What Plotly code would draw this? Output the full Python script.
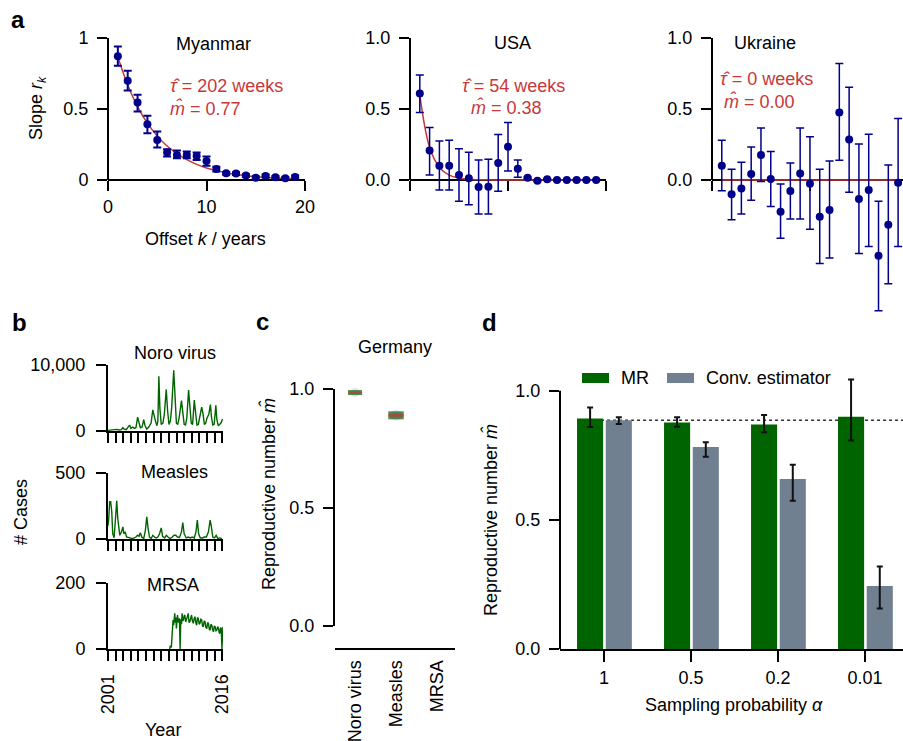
import plotly.graph_objects as go

W, H = 903, 741
FONT = "Liberation Sans, Arial, Helvetica, sans-serif"
NAVY = "#00008B"
RED = "#C8373A"
GREEN = "#006400"
GREY = "#708090"

# ---------------- panel a : slopes r_k vs offset k ----------------
offset_k = list(range(1, 20))
myanmar_r = [0.871, 0.699, 0.546, 0.393, 0.282, 0.193, 0.176, 0.176, 0.169, 0.134,
             0.078, 0.047, 0.045, 0.031, 0.016, 0.028, 0.019, 0.012, 0.021]
myanmar_hi = [0.940, 0.769, 0.600, 0.452, 0.341, 0.216, 0.207, 0.200, 0.193, 0.165,
              0.094, 0.057, 0.055, 0.041, 0.026, 0.038, 0.029, 0.022, 0.031]
myanmar_lo = [0.805, 0.631, 0.482, 0.329, 0.228, 0.165, 0.153, 0.153, 0.141, 0.101,
              0.059, 0.037, 0.035, 0.021, 0.006, 0.018, 0.009, 0.002, 0.011]
myanmar_fit = [0.866, 0.669, 0.517, 0.400, 0.309, 0.239, 0.185, 0.143, 0.110, 0.085,
               0.066, 0.051, 0.039, 0.030, 0.023, 0.018, 0.014, 0.011, 0.008]

usa_r = [0.610, 0.207, 0.100, 0.100, 0.035, 0.012, -0.050, -0.047, 0.120, 0.235,
         0.080, 0.015, -0.005, 0.005, 0.000, 0.000, 0.000, 0.000, 0.000]
usa_hi = [0.740, 0.370, 0.275, 0.280, 0.220, 0.195, 0.140, 0.146, 0.320, 0.405,
          0.140, 0.022, 0.000, 0.010, 0.004, 0.004, 0.004, 0.004, 0.004]
usa_lo = [0.475, 0.035, -0.070, -0.070, -0.150, -0.175, -0.240, -0.240, -0.080, 0.063,
          0.020, 0.008, -0.010, 0.000, -0.004, -0.004, -0.004, -0.004, -0.004]
usa_fit = [0.600, 0.230, 0.088, 0.034, 0.013, 0.005, 0.002, 0.001, 0.000, 0.000,
           0.000, 0.000, 0.000, 0.000, 0.000, 0.000, 0.000, 0.000, 0.000]

ukraine_r = [0.100, -0.100, -0.060, 0.042, 0.176, 0.007, -0.224, -0.078, 0.045, -0.026,
             -0.259, -0.212, 0.475, 0.285, -0.134, -0.071, -0.534, -0.315, -0.019]
ukraine_hi = [0.280, 0.075, 0.125, 0.233, 0.367, 0.200, -0.028, 0.120, 0.367, 0.304,
              0.075, 0.134, 0.820, 0.654, 0.254, 0.322, -0.150, 0.106, 0.433]
ukraine_lo = [-0.075, -0.280, -0.240, -0.143, -0.010, -0.186, -0.410, -0.275, -0.275, -0.346,
              -0.588, -0.550, 0.139, -0.087, -0.518, -0.468, -0.920, -0.730, -0.468]
ukraine_fit = [0.0, 0.0, 0.0, 0.0, 0.0, 0.0, 0.0, 0.0, 0.0, 0.0,
               0.0, 0.0, 0.0, 0.0, 0.0, 0.0, 0.0, 0.0, 0.0]

country_names = ["Myanmar", "USA", "Ukraine"]
tau_labels = ["202", "54", "0"]
m_labels = ["0.77", "0.38", "0.00"]

# ---------------- panel b : case counts (Germany) ----------------
noro_year = [2001.00, 2001.35, 2001.80, 2002.15, 2002.46, 2002.77, 2002.95, 2003.12, 2003.39, 2003.65,
             2003.83, 2004.01, 2004.27, 2004.45, 2004.67, 2004.89, 2005.07, 2005.25, 2005.47, 2005.69,
             2005.87, 2006.09, 2006.35, 2006.66, 2006.88, 2007.06, 2007.24, 2007.42, 2007.55, 2007.68,
             2007.81, 2007.99, 2008.21, 2008.39, 2008.65, 2008.83, 2009.01, 2009.19, 2009.36, 2009.63,
             2009.81, 2009.98, 2010.16, 2010.34, 2010.65, 2010.82, 2011.00, 2011.18, 2011.35, 2011.58,
             2011.75, 2011.93, 2012.11, 2012.33, 2012.50, 2012.68, 2012.86, 2013.08, 2013.30, 2013.48,
             2013.65, 2013.83, 2014.01, 2014.23, 2014.45, 2014.58, 2014.76, 2014.94, 2015.16, 2015.29,
             2015.47, 2015.65, 2015.82, 2016.04]
noro_cases = [100, 150, 100, 250, 150, 200, 500, 300, 200, 600,
              900, 400, 600, 400, 500, 2100, 1200, 500, 600, 1700,
              800, 300, 600, 1200, 3200, 2200, 1500, 800, 1500, 8300,
              3500, 1000, 1200, 2500, 6300, 3000, 1000, 1500, 3500, 9200,
              3800, 1200, 1000, 2000, 4600, 2800, 1000, 900, 2000, 6200,
              3500, 1200, 1000, 4700, 2800, 900, 1000, 2300, 3600, 2600,
              1000, 1200, 2000, 2500, 4000, 2200, 900, 1000, 3900, 1800,
              800, 1000, 1200, 1800]

measles_year = [2001.00, 2001.09, 2001.22, 2001.35, 2001.49, 2001.62, 2001.80, 2001.93, 2002.06, 2002.15,
                2002.28, 2002.42, 2002.55, 2002.77, 2002.95, 2003.08, 2003.26, 2003.43, 2003.79, 2004.23,
                2004.67, 2004.89, 2005.07, 2005.25, 2005.43, 2005.69, 2005.91, 2006.09, 2006.27, 2006.44,
                2006.66, 2006.88, 2007.11, 2007.33, 2007.55, 2007.77, 2007.99, 2008.17, 2008.43, 2008.66,
                2008.88, 2009.14, 2009.45, 2009.67, 2009.89, 2010.12, 2010.38, 2010.65, 2010.82, 2011.00,
                2011.27, 2011.53, 2011.80, 2012.06, 2012.33, 2012.55, 2012.73, 2012.90, 2013.12, 2013.39,
                2013.66, 2013.92, 2014.19, 2014.41, 2014.58, 2014.76, 2014.98, 2015.20, 2015.43, 2015.65,
                2015.96]
measles_cases = [100, 150, 283, 283, 210, 40, 10, 100, 230, 290,
                 155, 66, 28, 54, 92, 40, 54, 15, 8, 3,
                 15, 28, 20, 48, 15, 3, 66, 168, 79, 15,
                 3, 28, 15, 8, 15, 40, 84, 20, 8, 28,
                 15, 3, 15, 28, 28, 15, 12, 54, 125, 40,
                 8, 15, 8, 15, 8, 54, 143, 40, 8, 8,
                 15, 15, 54, 143, 92, 15, 8, 28, 3, 8,
                 3]

mrsa_year = [2009.10, 2009.19, 2009.32, 2009.45, 2009.54, 2009.62, 2009.67, 2009.76, 2009.85, 2009.92,
             2009.98, 2010.05, 2010.12, 2010.25, 2010.38, 2010.47, 2010.56, 2010.65, 2010.73, 2010.82,
             2010.91, 2011.00, 2011.09, 2011.20, 2011.31, 2011.42, 2011.53, 2011.64, 2011.75, 2011.86,
             2011.97, 2012.08, 2012.20, 2012.31, 2012.42, 2012.53, 2012.64, 2012.75, 2012.86, 2012.97,
             2013.08, 2013.19, 2013.30, 2013.41, 2013.52, 2013.63, 2013.74, 2013.85, 2013.97, 2014.08,
             2014.19, 2014.30, 2014.41, 2014.52, 2014.63, 2014.74, 2014.85, 2014.96, 2015.07, 2015.18,
             2015.29, 2015.40, 2015.51, 2015.60, 2015.69, 2015.78, 2015.87, 2015.96, 2016.02, 2016.09]
mrsa_cases = [0, 10, 5, 60, 88, 72, 100, 108, 80, 95,
              62, 90, 103, 80, 93, 0, 90, 75, 108, 85,
              88, 100, 103, 82, 88, 98, 108, 80, 83, 100,
              103, 85, 78, 92, 98, 80, 72, 95, 93, 75,
              78, 90, 88, 70, 67, 85, 83, 65, 62, 80,
              78, 60, 57, 75, 72, 58, 52, 70, 67, 55,
              57, 68, 62, 50, 47, 65, 62, 0, 52, 67]

years_ticks = list(range(2001, 2017))
year_ticktext = ["2001"] + [" "] * 14 + ["2016"]

# ---------------- panel c : Germany estimates ----------------
diseases = ["Noro virus", "Measles", "MRSA"]
germany_m = [0.985, 0.889, -0.002]

# ---------------- panel d : subsampling ----------------
alpha_labels = ["1", "0.5", "0.2", "0.01"]
mr_m = [0.893, 0.877, 0.870, 0.900]
mr_hi = [0.935, 0.898, 0.906, 1.044]
mr_lo = [0.860, 0.861, 0.840, 0.808]
conv_m = [0.886, 0.782, 0.658, 0.244]
conv_hi = [0.898, 0.801, 0.714, 0.320]
conv_lo = [0.871, 0.745, 0.574, 0.157]
true_m = 0.886


def px(x):
    return x / W


def py(y):
    return 1 - y / H


def up(v, hi):
    return [h - a for a, h in zip(v, hi)]


def dn(v, lo):
    return [a - l for a, l in zip(v, lo)]


fig = go.Figure()

# panel a traces
a_sets = [
    (myanmar_r, myanmar_hi, myanmar_lo, myanmar_fit, "x", "y", 2),
    (usa_r, usa_hi, usa_lo, usa_fit, "x2", "y2", 1.5),
    (ukraine_r, ukraine_hi, ukraine_lo, ukraine_fit, "x3", "y3", 1.5),
]
for r, hi, lo, fit, xa, ya, th in a_sets:
    fig.add_trace(go.Scatter(x=offset_k, y=fit, mode="lines", line=dict(color=RED, width=1.5, shape="spline"),
                             xaxis=xa, yaxis=ya, hoverinfo="skip"))
    fig.add_trace(go.Scatter(x=offset_k, y=r, mode="markers",
                             marker=dict(color=NAVY, size=8),
                             error_y=dict(type="data", symmetric=False, array=up(r, hi), arrayminus=dn(r, lo),
                                          color=NAVY, thickness=th, width=4),
                             xaxis=xa, yaxis=ya))

# panel b traces
for t, c, xa, ya in [(noro_year, noro_cases, "x4", "y4"),
                     (measles_year, measles_cases, "x5", "y5"),
                     (mrsa_year, mrsa_cases, "x6", "y6")]:
    fig.add_trace(go.Scatter(x=t, y=c, mode="lines", line=dict(color=GREEN, width=1.4),
                             xaxis=xa, yaxis=ya, cliponaxis=False))

# panel c traces
fig.add_trace(go.Scatter(x=diseases, y=germany_m, mode="markers", xaxis="x7", yaxis="y7", cliponaxis=False,
                         marker=dict(symbol="circle", size=[10, 12, 8], color="rgba(120,120,255,0.30)")))
fig.add_trace(go.Scatter(x=diseases, y=germany_m, mode="markers", xaxis="x7", yaxis="y7", cliponaxis=False,
                         marker=dict(symbol="line-ew", size=[10, 11, 1], color=GREEN,
                                     line=dict(color=GREEN, width=[5, 8, 0]))))
fig.add_trace(go.Scatter(x=diseases, y=germany_m, mode="markers", xaxis="x7", yaxis="y7", cliponaxis=False,
                         marker=dict(symbol="line-ew", size=[10, 11, 9], color=RED,
                                     line=dict(color=RED, width=[2, 3, 3]))))

# panel d traces
fig.add_trace(go.Bar(x=alpha_labels, y=mr_m, width=0.3, offset=-0.31, marker=dict(color=GREEN, line=dict(width=0)),
                     error_y=dict(type="data", symmetric=False, array=up(mr_m, mr_hi), arrayminus=dn(mr_m, mr_lo),
                                  color="#111111", thickness=2, width=3),
                     xaxis="x8", yaxis="y8", name="MR"))
fig.add_trace(go.Bar(x=alpha_labels, y=conv_m, width=0.3, offset=0.02, marker=dict(color=GREY, line=dict(width=0)),
                     error_y=dict(type="data", symmetric=False, array=up(conv_m, conv_hi), arrayminus=dn(conv_m, conv_lo),
                                  color="#111111", thickness=2, width=3),
                     xaxis="x8", yaxis="y8", name="Conv. estimator"))

tickfont = dict(size=18, color="black", family=FONT)


def axis(**kw):
    base = dict(showgrid=False, zeroline=False, ticks="outside", ticklen=10, tickwidth=2, tickcolor="black",
                linecolor="black", linewidth=2, tickfont=tickfont, fixedrange=True, automargin=False)
    base.update(kw)
    return base


def yaxis(**kw):
    kw.setdefault("ticklabelstandoff", 5)
    return axis(**kw)


ya_dom = [py(322), py(38)]
x0_pos = py(180)
layout = dict(
    width=W, height=H, margin=dict(l=0, r=0, t=0, b=0, autoexpand=False), autosize=False,
    paper_bgcolor="white", plot_bgcolor="white", showlegend=False, barmode="overlay",
    font=dict(family=FONT, size=18, color="black"),
    # panel a
    xaxis=axis(domain=[px(108), px(305)], range=[0, 20], anchor="free", position=x0_pos, showline=True,
               tickvals=[0, 10, 20], layer="below traces"),
    yaxis=yaxis(domain=ya_dom, range=[-1.0, 1.0], anchor="x", showline=False,
                tickvals=[0, 0.5, 1], ticktext=["0", "0.5", "1"]),
    xaxis2=axis(domain=[px(410), px(606)], range=[0, 20], anchor="free", position=x0_pos, showline=True,
                tickvals=[0, 10, 20], showticklabels=False, layer="below traces"),
    yaxis2=yaxis(domain=ya_dom, range=[-1.0, 1.0], anchor="x2", showline=False,
                 tickvals=[0, 0.5, 1], ticktext=["0.0", "0.5", "1.0"]),
    xaxis3=axis(domain=[px(712), 1.0], range=[0, 19.5], anchor="free", position=x0_pos, showline=True,
                tickvals=[0, 10, 20], showticklabels=False, layer="below traces"),
    yaxis3=yaxis(domain=ya_dom, range=[-1.0, 1.0], anchor="x3", showline=False,
                 tickvals=[0, 0.5, 1], ticktext=["0.0", "0.5", "1.0"]),
    # panel b
    xaxis4=axis(domain=[px(108), px(223)], range=[2001, 2016.1], anchor="y4", showline=True,
                tickvals=years_ticks, showticklabels=False),
    yaxis4=yaxis(domain=[py(431), py(365)], range=[0, 10000], anchor="x4", showline=True,
                 tickvals=[0, 10000], ticktext=["0", "10,000"], ticklabelstandoff=7),
    xaxis5=axis(domain=[px(108), px(223)], range=[2001, 2016.1], anchor="y5", showline=True,
                tickvals=years_ticks, showticklabels=False),
    yaxis5=yaxis(domain=[py(539), py(473)], range=[0, 500], anchor="x5", showline=True,
                 tickvals=[0, 500], ticktext=["0", "500"], ticklabelstandoff=7),
    xaxis6=axis(domain=[px(108), px(223)], range=[2001, 2016.1], anchor="y6", showline=True,
                tickvals=years_ticks, ticktext=year_ticktext, tickangle=-90, ticklabelstandoff=6),
    yaxis6=yaxis(domain=[py(649), py(583)], range=[0, 200], anchor="x6", showline=True,
                 tickvals=[0, 200], ticktext=["0", "200"], ticklabelstandoff=7),
    # panel c
    xaxis7=axis(domain=[px(335), px(455)], type="category", range=[-0.49, 2.44], anchor="free",
                position=py(649), showline=True, ticks="", tickangle=-90, ticklabelstandoff=3),
    yaxis7=yaxis(domain=[py(626), py(389)], range=[0, 1], anchor="x7", showline=True,
                 tickvals=[0, 0.5, 1], ticktext=["0.0", "0.5", "1.0"]),
    # panel d
    xaxis8=axis(domain=[px(560), 1.0], type="category", range=[-0.506, 3.437], anchor="y8", showline=True,
                ticklen=11),
    yaxis8=yaxis(domain=[py(649), py(365)], range=[0, 1.1], anchor="x8", showline=False,
                 tickvals=[0, 0.5, 1], ticktext=["0.0", "0.5", "1.0"]),
)

shapes = []
for xa, ya in [("x", "y"), ("x2", "y2"), ("x3", "y3"), ("x8", "y8")]:
    shapes.append(dict(type="line", xref=xa + " domain", yref=ya, x0=0, x1=0, y0=0, y1=1,
                       line=dict(color="black", width=2)))
shapes.append(dict(type="line", xref="x8", yref="y8", x0=-0.31, x1=3.437, y0=true_m, y1=true_m,
                   line=dict(color="#333333", width=1.5, dash="dot"), layer="below"))
# manual legend swatches for panel d
shapes.append(dict(type="rect", xref="paper", yref="paper", x0=px(582), x1=px(609), y0=py(383), y1=py(373),
                   fillcolor=GREEN, line=dict(width=0)))
shapes.append(dict(type="rect", xref="paper", yref="paper", x0=px(667), x1=px(694), y0=py(383), y1=py(373),
                   fillcolor=GREY, line=dict(width=0)))
layout["shapes"] = shapes

ann = []


def add_text(text, x, y, size=18, color="black", xanchor="center", angle=0):
    ann.append(dict(text=text, x=px(x), y=py(y), xref="paper", yref="paper", showarrow=False,
                    xanchor=xanchor, yanchor="middle", textangle=angle,
                    font=dict(size=size, color=color, family=FONT)))


# panel letters
add_text("<b>a</b>", 18, 19, size=24)
add_text("<b>b</b>", 19, 322, size=24)
add_text("<b>c</b>", 262, 321, size=24)
add_text("<b>d</b>", 490, 322, size=24)

# panel a texts
add_text(country_names[0], 213, 44)
add_text(country_names[1], 512, 43)
add_text(country_names[2], 765, 43)
tau_pos = [(168, 86), (460, 86), (718, 79)]
m_pos = [(168, 109), (469, 107), (722, 102)]
for i in range(3):
    add_text("<i>\u03c4\u0302</i> = " + tau_labels[i] + " weeks", tau_pos[i][0], tau_pos[i][1], color=RED, xanchor="left")
    add_text("<i>m\u0302</i> = " + m_labels[i], m_pos[i][0], m_pos[i][1], color=RED, xanchor="left")
add_text("Slope <i>r</i><sub><i>k</i></sub>", 37, 108, angle=-90)
add_text("Offset <i>k</i> / years", 205, 239)

# panel b texts
add_text("Noro virus", 175, 353)
add_text("Measles", 174, 472)
add_text("MRSA", 173, 585)
add_text("# Cases", 21, 512, angle=-90)
add_text("Year", 163, 730)

# panel c texts
add_text("Germany", 395, 347)
add_text("Reproductive number <i>m\u0302</i>", 268, 494, angle=-90)

# panel d texts
add_text("Reproductive number <i>m\u0302</i>", 490, 520, angle=-90)
add_text("Sampling probability <i>\u03b1</i>", 734, 705)
add_text("MR", 619, 378, xanchor="left")
add_text("Conv. estimator", 704, 378, xanchor="left")

layout["annotations"] = ann
fig.update_layout(**layout)
fig.write_html("out.html", config={"displayModeBar": False},
               post_script="document.body.style.margin='0';document.body.style.overflow='hidden';")
